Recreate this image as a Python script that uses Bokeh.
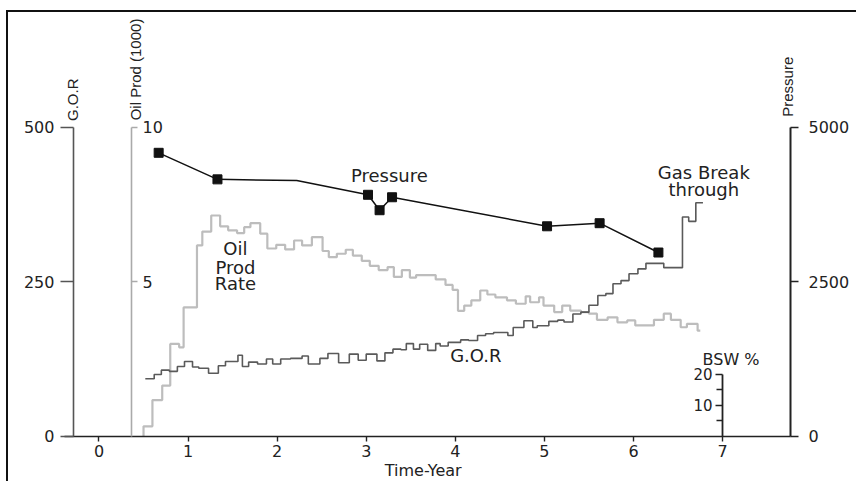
import math
from bokeh.plotting import figure
from bokeh.models import Range1d, LinearAxis, FixedTicker, Label
from bokeh.core.properties import value
from bokeh.embed import file_html
from bokeh.resources import INLINE

# ---------------- data ----------------
# Pressure vs time (years); third point is a line vertex without a marker
press_t = [0.67, 1.33, 2.22, 3.02, 3.15, 3.29, 5.03, 5.62, 6.28]
press_v = [4590, 4160, 4140, 3910, 3660, 3870, 3400, 3450, 2975]
press_measured = [1, 1, 0, 1, 1, 1, 1, 1, 1]

# G.O.R monthly step series: start time of each step and its value
gor_t = [0.52, 0.62, 0.70, 0.79, 0.88, 0.96, 1.05, 1.12, 1.23, 1.34,
         1.42, 1.56, 1.61, 1.68, 1.78, 1.88, 1.95, 2.04, 2.15, 2.28,
         2.35, 2.48, 2.57, 2.69, 2.81, 2.91, 3.00, 3.12, 3.21, 3.30,
         3.39, 3.45, 3.53, 3.60, 3.69, 3.78, 3.83, 3.92, 4.06, 4.15,
         4.25, 4.34, 4.43, 4.59, 4.65, 4.77, 4.87, 4.92, 5.05, 5.15,
         5.22, 5.32, 5.41, 5.50, 5.60, 5.69, 5.77, 5.86, 5.95, 6.05,
         6.14, 6.34, 6.55, 6.62, 6.70]
gor_v = [93, 100, 107, 105, 113, 121, 112, 110, 102, 114,
         121, 131, 113, 120, 117, 125, 117, 125, 126, 130,
         117, 126, 134, 119, 133, 123, 133, 122, 135, 141,
         140, 150, 141, 149, 139, 150, 146, 152, 156, 155,
         163, 166, 168, 163, 176, 187, 176, 179, 186, 188,
         185, 198, 201, 212, 228, 231, 247, 252, 263, 271,
         280, 273, 355, 348, 378]
gor_end = 6.78

# Oil production rate (1000) monthly step series
oil_t = [0.50, 0.60, 0.71, 0.80, 0.90, 0.95, 1.10, 1.16, 1.26, 1.36,
         1.45, 1.55, 1.63, 1.70, 1.81, 1.89, 1.99, 2.09, 2.19, 2.28,
         2.39, 2.51, 2.58, 2.67, 2.77, 2.85, 2.95, 3.04, 3.14, 3.24,
         3.31, 3.40, 3.49, 3.56, 3.78, 3.89, 3.97, 4.03, 4.10, 4.18,
         4.28, 4.36, 4.45, 4.58, 4.68, 4.79, 4.84, 4.94, 4.99, 5.11,
         5.20, 5.29, 5.41, 5.50, 5.59, 5.71, 5.82, 5.93, 6.02, 6.23,
         6.34, 6.42, 6.53, 6.60, 6.72]
oil_v = [0.32, 1.17, 1.64, 2.99, 2.88, 4.17, 6.18, 6.63, 7.15, 6.80,
         6.67, 6.58, 6.77, 6.90, 6.56, 6.08, 6.20, 6.05, 6.34, 6.18,
         6.45, 6.00, 5.80, 5.91, 6.04, 5.85, 5.68, 5.52, 5.38, 5.48,
         5.16, 5.38, 5.14, 5.22, 5.08, 4.90, 4.74, 4.06, 4.23, 4.40,
         4.72, 4.59, 4.50, 4.40, 4.29, 4.53, 4.34, 4.50, 4.23, 4.02,
         4.23, 4.07, 4.02, 3.97, 3.77, 3.85, 3.69, 3.75, 3.59, 3.77,
         3.97, 3.77, 3.53, 3.64, 3.42]
oil_end = 6.75

x_ticks = [0, 1, 2, 3, 4, 5, 6, 7]
gor_ticks = [0, 250, 500]
press_ticks = [0, 2500, 5000]
oil_ticks = [5, 10]
bsw_major = [10, 20]
bsw_minor = [5, 15]

# ---------------- layout / styles ----------------
FONT = "DejaVu Sans"
TITLE_FONT = "Liberation Sans"
TXT = "#222222"
GOR_AXIS_T = -0.2863
PRESS_AXIS_T = 7.7627
OIL_AXIS_T = 0.365
BSW_AXIS_T = 7.0

p = figure(width=850, height=471,
           x_range=Range1d(-1.0157, 8.5261), y_range=Range1d(-76.61, 686.26),
           output_backend="svg", toolbar_location=None,
           x_axis_location=None, y_axis_location=None,
           min_border=0, min_border_left=0, min_border_right=0,
           min_border_top=0, min_border_bottom=0)
p.styles = {"margin-left": "6px", "margin-top": "10px",
            "border-left": "2px solid #111111", "border-top": "2px solid #111111"}
p.outline_line_color = None
p.xgrid.visible = False
p.ygrid.visible = False
p.background_fill_color = "white"
p.border_fill_color = "white"

p.extra_y_ranges = {"press": Range1d(-766.1, 6862.6),
                    "oil": Range1d(-1.532, 13.725),
                    "bsw": Range1d(-15.32, 137.25)}


def make_axis(side, loc, ticks, bounds, color, width, tick_out, standoff,
              font_size="16px", y_range_name="default", minor=None, minor_out=0):
    ax = LinearAxis(fixed_location=loc, bounds=bounds,
                    ticker=FixedTicker(ticks=ticks, minor_ticks=minor or []))
    if y_range_name != "default":
        ax.y_range_name = y_range_name
    ax.major_label_text_font = FONT
    ax.major_label_text_font_size = font_size
    ax.major_label_text_color = TXT
    ax.major_tick_in = 0
    ax.major_tick_out = tick_out
    ax.major_label_standoff = standoff
    ax.axis_line_color = color
    ax.axis_line_width = width
    ax.major_tick_line_color = color
    ax.major_tick_line_width = 1.4
    if minor:
        ax.minor_tick_in = 0
        ax.minor_tick_out = minor_out
        ax.minor_tick_line_color = color
        ax.minor_tick_line_width = 1.4
    else:
        ax.minor_tick_line_color = None
    p.add_layout(ax, side)
    return ax


# time axis
make_axis("below", 0, x_ticks, (-0.39, PRESS_AXIS_T), "#222222", 1.6, 5, 4,
          font_size="16px")
# G.O.R axis
make_axis("left", GOR_AXIS_T, gor_ticks, (0, 500), "#555555", 1.6, 13, 6)
# Pressure axis
make_axis("right", PRESS_AXIS_T, press_ticks, (0, 5000), "#222222", 2, 8, 10,
          y_range_name="press")
# Oil rate axis (labels to its right)
make_axis("right", OIL_AXIS_T, oil_ticks, (0, 10), "#aaaaaa", 1.6, 6, 5,
          y_range_name="oil")
# BSW axis
make_axis("left", BSW_AXIS_T, bsw_major, (0, 20), "#222222", 1.8, 7, 3,
          font_size="15px", y_range_name="bsw", minor=bsw_minor, minor_out=6)

# ---------------- series ----------------
oil_x = [oil_t[0]] + oil_t + [oil_end]
oil_y = [0] + oil_v + [oil_v[-1]]
p.step(oil_x, oil_y, mode="after", line_color="#bdbdbd", line_width=2.2,
       y_range_name="oil")

gor_x = gor_t + [gor_end]
gor_y = gor_v + [gor_v[-1]]
p.step(gor_x, gor_y, mode="after", line_color="#5a5a5a", line_width=1.6)

p.line(press_t, press_v, line_color="#111111", line_width=1.5, y_range_name="press")
mt = [t for t, m in zip(press_t, press_measured) if m]
mv = [v for v, m in zip(press_v, press_measured) if m]
p.scatter(mt, mv, marker="square", size=9, fill_color="#111111",
          line_color="#111111", y_range_name="press")

# ---------------- in-plot annotations ----------------
ann_text = ["Pressure", "Oil", "Prod", "Rate", "G.O.R", "Gas Break", "through", "BSW %"]
ann_x = [3.26, 1.532, 1.532, 1.532, 4.23, 6.79, 6.79, 7.095]
ann_y = [422, 303.5, 273.7, 246.8, 130.7, 427.6, 399.1, 123.7]
ann_size = ["18px", "18px", "18px", "18px", "18px", "18px", "18px", "16px"]
p.text(x=ann_x, y=ann_y, text=ann_text, text_font=value(FONT),
       text_font_size=ann_size, text_color=TXT, text_align="center",
       text_baseline="middle")

# rotated axis titles
for txt, tx, ty in [("G.O.R", -0.301, 545), ("Oil Prod (1000)", 0.41, 594),
                    ("Pressure", 7.726, 566)]:
    p.add_layout(Label(x=tx, y=ty, text=txt, angle=math.pi / 2,
                       text_font=TITLE_FONT, text_font_size="15px", text_color=TXT,
                       text_align="center", text_baseline="middle"))

p.add_layout(Label(x=3.64, y=-40.2, text="Time-Year", text_font=FONT,
                   text_font_size="16px", text_color=TXT,
                   text_align="center", text_baseline="top"))

open("out.html", "w").write(file_html(p, INLINE))
